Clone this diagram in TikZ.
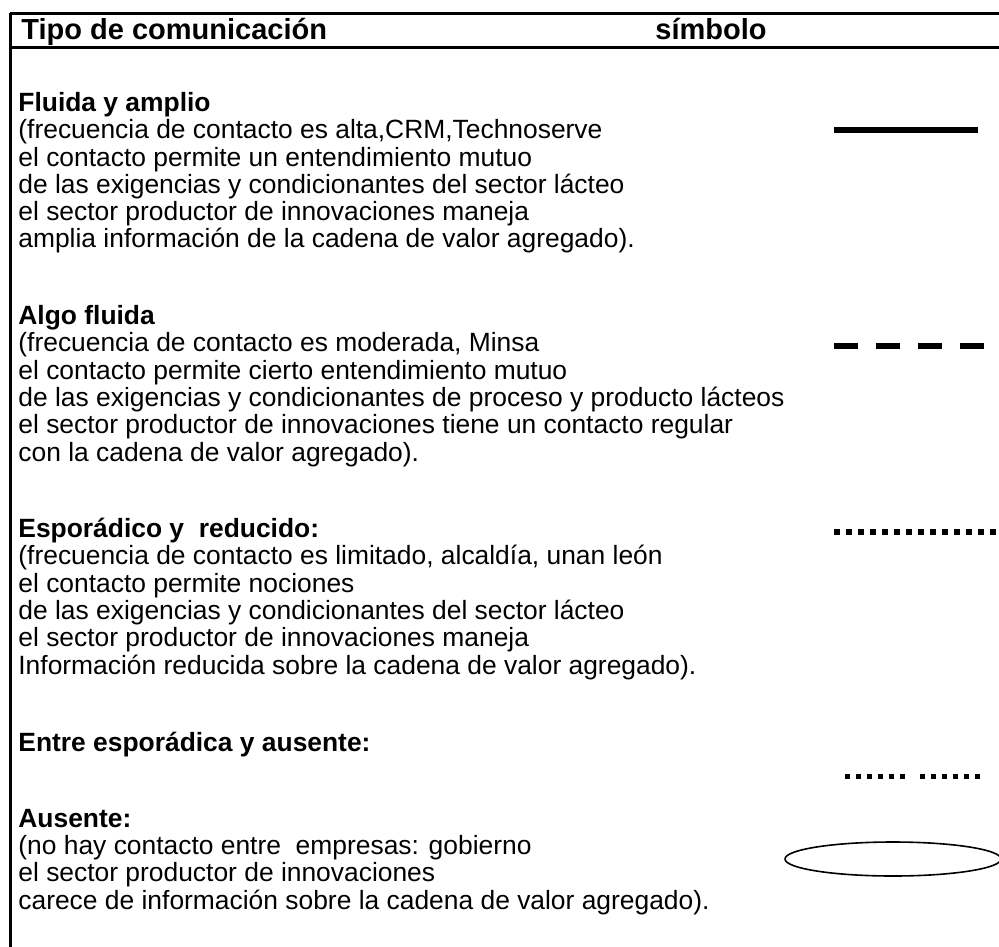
\documentclass[tikz,border=0pt]{standalone}
\usepackage{fontspec}
\setmainfont{Liberation Sans}
\usetikzlibrary{positioning}

\begin{document}
\begin{tikzpicture}[x=0.5pt,y=-0.5pt,inner sep=0pt]
\tikzstyle{frame}=[line width=1.5pt]
\tikzstyle{title}=[anchor=base west,font=\fontsize{14.5}{15}\selectfont\bfseries]
\tikzstyle{block}=[anchor=base west,align=left,font=\fontsize{13.2}{13.65}\selectfont]
\tikzstyle{symbol}=[line width=3pt]
\tikzstyle{puntos}=[line width=2.5pt,dash pattern=on 2.5pt off 3pt]

\useasboundingbox (0,0) rectangle (999,946);
\clip (0,0) rectangle (999,946);

% marco de la tabla
\draw[frame] (10,14) -- (1005,14);
\draw[frame] (10,48) -- (1005,48);
\draw[frame] (10,13) -- (10,950);

\node[title] (tipo) at (21,40) {Tipo de comunicación};
\node[title] (simbolo) at (655,40) {símbolo};

% cada bloque se ancla en la linea base de su ultima linea
\node[block] (fluida) at (18,248) {\textbf{Fluida y amplio}\\
(frecuencia de contacto es alta,CRM,Technoserve\\
el contacto permite un entendimiento mutuo\\
de las exigencias y condicionantes del sector lácteo\\
el sector productor de innovaciones maneja\\
amplia información de la cadena de valor agregado).};

\node[block] (algo) at (18,461) {\textbf{Algo fluida}\\
(frecuencia de contacto es moderada, Minsa\\
el contacto permite cierto entendimiento mutuo\\
de las exigencias y condicionantes de proceso y producto lácteos\\
el sector productor de innovaciones tiene un contacto regular\\
con la cadena de valor agregado).};

\node[block] (esporadico) at (18,674) {\textbf{Esporádico y\ \ reducido:}\\
(frecuencia de contacto es limitado, alcaldía, unan león\\
el contacto permite nociones\\
de las exigencias y condicionantes del sector lácteo\\
el sector productor de innovaciones maneja\\
Información reducida sobre la cadena de valor agregado).};

\node[block] (entre) at (18,751) {\textbf{Entre esporádica y ausente:}};

\node[block] (ausente) at (18,909) {\textbf{Ausente:}\\
(no hay contacto entre\ \ empresas: gobierno\\
el sector productor de innovaciones\\
carece de información sobre la cadena de valor agregado).};

% simbolos
\draw[symbol] (834,130) -- (978,130);
\draw[symbol,dash pattern=on 12pt off 9pt] (834,346) -- (984,346);
\draw[symbol,dash pattern=on 3pt off 3pt] (834,532) -- (1002,532);
\draw[puntos] (845,776) -- (907,776);
\draw[puntos] (920,776) -- (982,776);
\draw[line width=0.8pt] (893,859) ellipse [x radius=108, y radius=17];
\end{tikzpicture}
\end{document}
